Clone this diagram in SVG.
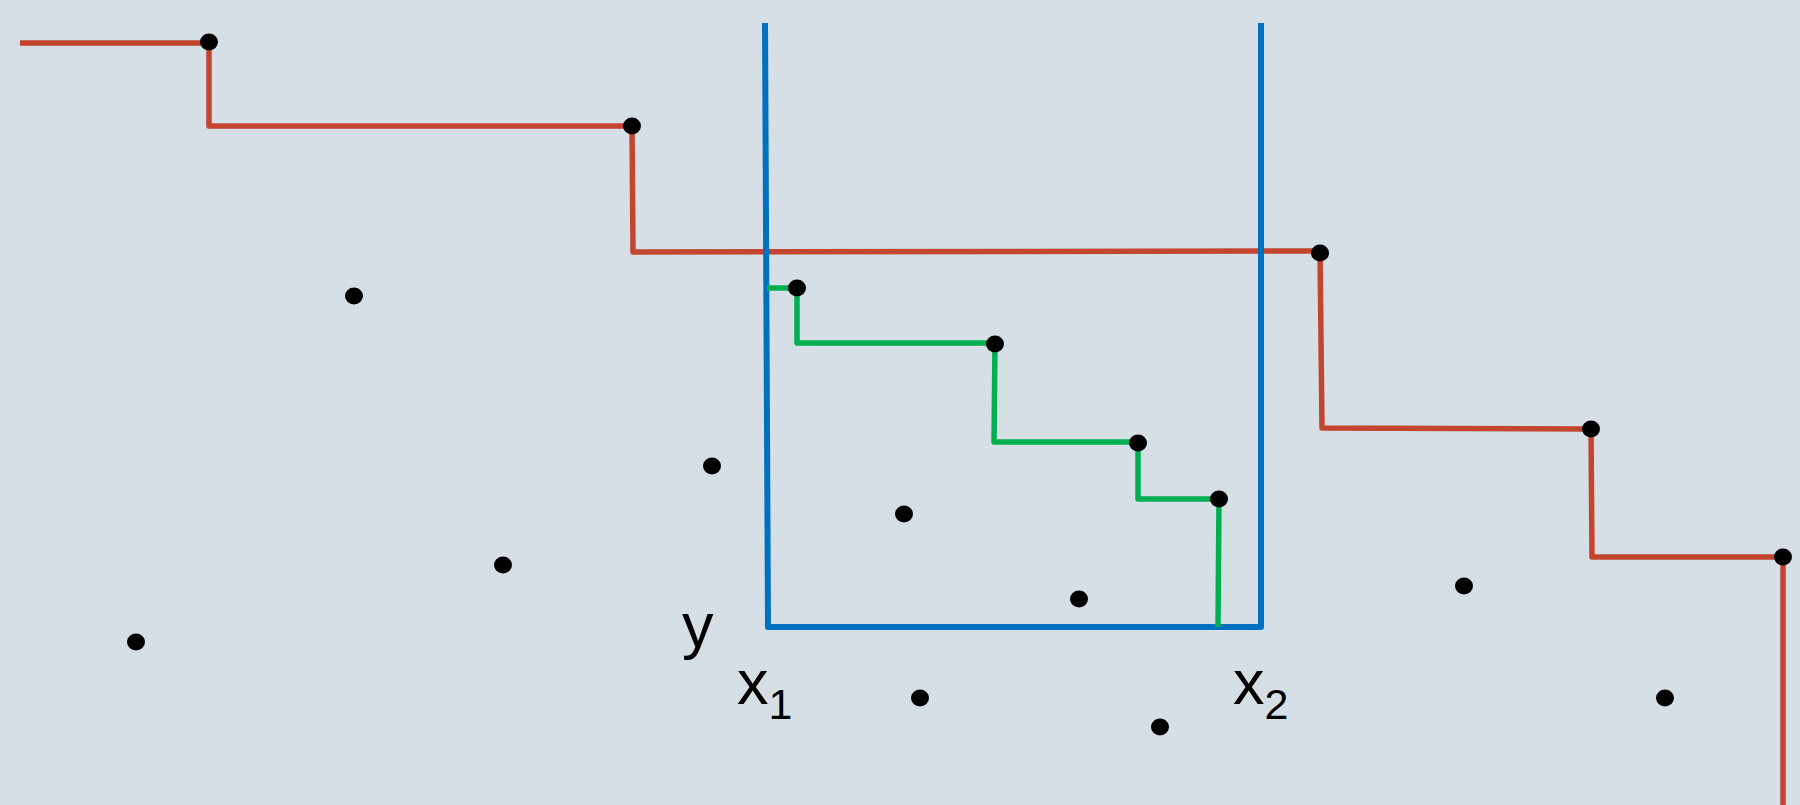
<svg xmlns="http://www.w3.org/2000/svg" width="1800" height="805" viewBox="0 0 1800 805">
<style>
.red{fill:none;stroke:#C4452F;stroke-width:5.5;stroke-linejoin:round}
.blue{fill:none;stroke:#0070C0;stroke-width:6;stroke-linejoin:round}
.green{fill:none;stroke:#00B050;stroke-width:5.5;stroke-linejoin:round}
.dot{fill:#000}
.lbl{font-family:'Liberation Sans','Noto Sans',Arial,sans-serif;fill:#000}
</style>
<rect width="1800" height="805" fill="#D6DFE6"/>
<g id="connectors">
<polyline class="red" points="20,43 209,43 209,126 632,126 633,252 1320,251 1322,428 1591,429 1592,557 1783,557 1783,805"/>
<polyline class="blue" points="765,23 768,627 1261,627 1261,23"/>
<polyline class="green" points="767,288 797,288 797,343 995,343 994,442 1138,442 1138,499 1219,499 1218,627"/>
</g>
<g id="p1"><ellipse class="dot" cx="209" cy="42" rx="9" ry="8.5"/></g>
<g id="p2"><ellipse class="dot" cx="632" cy="126" rx="9" ry="8.5"/></g>
<g id="p3"><ellipse class="dot" cx="1320" cy="253" rx="9" ry="8.5"/></g>
<g id="p4"><ellipse class="dot" cx="1591" cy="429" rx="9" ry="8.5"/></g>
<g id="p5"><ellipse class="dot" cx="1783" cy="557" rx="9" ry="8.5"/></g>
<g id="g1"><ellipse class="dot" cx="797" cy="288" rx="9" ry="8.5"/></g>
<g id="g2"><ellipse class="dot" cx="995" cy="344" rx="9" ry="8.5"/></g>
<g id="g3"><ellipse class="dot" cx="1138" cy="443" rx="9" ry="8.5"/></g>
<g id="g4"><ellipse class="dot" cx="1219" cy="499" rx="9" ry="8.5"/></g>
<g id="q1"><ellipse class="dot" cx="354" cy="296" rx="9" ry="8.5"/></g>
<g id="q2"><ellipse class="dot" cx="712" cy="466" rx="9" ry="8.5"/></g>
<g id="q3"><ellipse class="dot" cx="503" cy="565" rx="9" ry="8.5"/></g>
<g id="q4"><ellipse class="dot" cx="136" cy="642" rx="9" ry="8.5"/></g>
<g id="q5"><ellipse class="dot" cx="904" cy="514" rx="9" ry="8.5"/></g>
<g id="q6"><ellipse class="dot" cx="1079" cy="599" rx="9" ry="8.5"/></g>
<g id="q7"><ellipse class="dot" cx="920" cy="698" rx="9" ry="8.5"/></g>
<g id="q8"><ellipse class="dot" cx="1160" cy="727" rx="9" ry="8.5"/></g>
<g id="q9"><ellipse class="dot" cx="1464" cy="586" rx="9" ry="8.5"/></g>
<g id="q10"><ellipse class="dot" cx="1665" cy="698" rx="9" ry="8.5"/></g>
<g id="labels">
<text class="lbl" x="682" y="647" font-size="63">y</text>
<text class="lbl" x="737" y="704" font-size="63">x<tspan font-size="43" dy="15">1</tspan></text>
<text class="lbl" x="1233" y="704" font-size="63">x<tspan font-size="43" dy="15">2</tspan></text>
</g>
</svg>
